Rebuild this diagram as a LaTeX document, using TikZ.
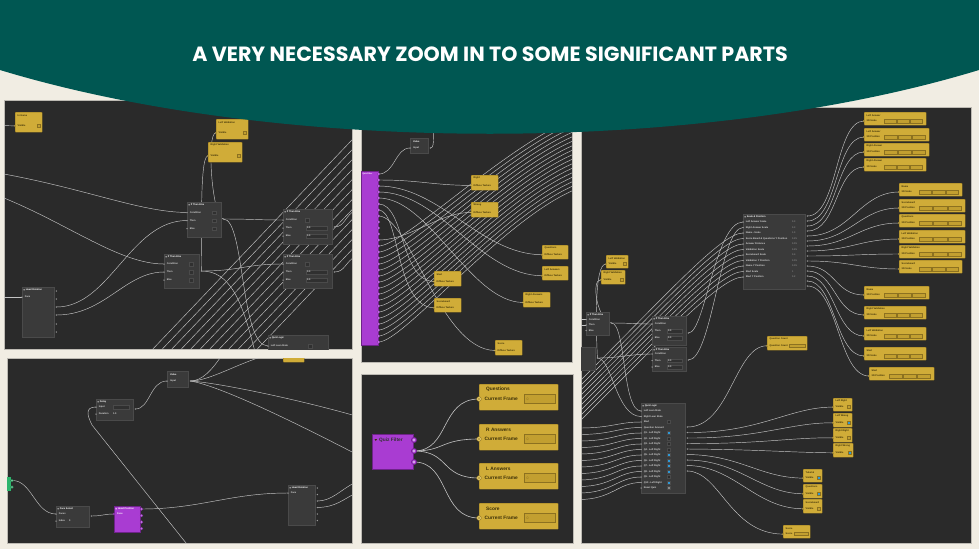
\documentclass[tikz,border=0pt]{standalone}
\usepackage{fontspec}
\setsansfont{Liberation Sans}
\newfontfamily\titlefont{Poppins}
\usetikzlibrary{calc}
\definecolor{cream}{HTML}{F1EDE3}
\definecolor{tealh}{HTML}{005752}
\definecolor{panelc}{HTML}{2A2A2A}
\definecolor{panelb}{HTML}{BDBAB3}
\definecolor{yel}{HTML}{D0AC38}
\definecolor{ybord}{HTML}{8C7120}
\definecolor{ytext}{HTML}{3B2F08}
\definecolor{ylite}{HTML}{F3DA7A}
\definecolor{yfld}{HTML}{C29F30}
\definecolor{gfill}{HTML}{3A3A3A}
\definecolor{gbord}{HTML}{4A4A4A}
\definecolor{gtxt}{HTML}{D8D8D8}
\definecolor{gport}{HTML}{9A9A9A}
\definecolor{gfld}{HTML}{303030}
\definecolor{purp}{HTML}{A93CD2}
\definecolor{pbord}{HTML}{6E2389}
\definecolor{pport}{HTML}{C56FE8}
\definecolor{wirec}{HTML}{C4C4C4}
\definecolor{grn}{HTML}{2DB46C}
\definecolor{bluec}{HTML}{2F9AD8}
\definecolor{gchk}{HTML}{2C2C2C}
\definecolor{gchkl}{HTML}{8A8A8A}
\pgfdeclarelayer{back}\pgfdeclarelayer{bg}\pgfdeclarelayer{front}
\pgfsetlayers{back,bg,main,front}
\newcommand\tfont{\sffamily\bfseries\fontsize{2.4}{2.8}\selectfont}
\newcommand\midfont{\sffamily\bfseries\fontsize{4.8}{5.5}\selectfont}
\tikzset{
 tx/.style={font=\tfont, inner sep=0pt, anchor=west},
 ybx/.style={draw=ybord, fill=yel, line width=0.4pt, inner sep=0pt, rounded corners=0.6pt},
 gbx/.style={draw=gbord, fill=gfill, line width=0.4pt, inner sep=0pt},
 pbx/.style={draw=pbord, fill=purp, line width=0.4pt, inner sep=0pt},
 wire/.style={draw=wirec, line width=0.45pt},
}
% yellow node: name x y w h title row
\newcommand\yNd[7]{%
 \node[ybx, anchor=north west, minimum width=#4pt, minimum height=#5pt] (#1) at (#2,#3) {};
 \node[tx, text=ytext] at ($(#1.north west)+(2.5,3.2)$) {#6};
 \coordinate (#1p) at ($(#1.north west)!0.68!(#1.south west)$);
 \node[tx, text=ytext] at ($(#1p)+(2.5,0)$) {#7};
 \fill[ybord] (#1p) circle (1.1pt); \fill[ylite] (#1p) circle (0.55pt);
}
\newcommand\yChk[2]{%
 \filldraw[fill=#2, draw=ybord, line width=0.3pt, shift={(#1.east |- #1p)}] (-5.5,-1.5) rectangle ++(3,3);
}
% yellow 3D node: name x y w title row
\newcommand\yThree[6]{%
 \node[ybx, anchor=north west, minimum width=#4pt, minimum height=13pt] (#1) at (#2,#3) {};
 \node[tx, text=ytext] at ($(#1.north west)+(2.5,3.3)$) {#5};
 \coordinate (#1p) at ($(#1.north west)+(0,9)$);
 \node[tx, text=ytext] at ($(#1p)+(2.5,0)$) {#6};
 \foreach \q in {0,1,2} \filldraw[fill=yfld, draw=ybord, line width=0.25pt] ($(#1.north west)+({20+\q*(#4-23)/3},7.2)$) rectangle ++({(#4-23)/3-1},3.6);
 \fill[ybord] (#1p) circle (1.1pt); \fill[ylite] (#1p) circle (0.55pt);
}
% gray node: name x y w h title
\newcommand\gNd[6]{%
 \node[gbx, anchor=north west, minimum width=#4pt, minimum height=#5pt] (#1) at (#2,#3) {};
 \fill[gtxt] ($(#1.north west)+(1.3,2.4)$) -- ++(1.6,0) -- ++(-0.8,1.3) -- cycle;
 \node[tx, text=white] at ($(#1.north west)+(3.6,3)$) {#6};
}
\newcommand\gRow[4]{%
 \coordinate (#4) at ($(#1.north west)+(0,#2)$);
 \fill[gport] (#4) circle (0.75pt);
 \node[tx, text=gtxt] at ($(#4)+(2.6,0)$) {#3};
}
\newcommand\gOut[3]{%
 \coordinate (#3) at ($(#1.north east)+(2,#2)$);
 \fill[gport] (#3) circle (0.75pt);
}
\newcommand\gFld[5]{%
 \filldraw[fill=gfld, draw=gbord, line width=0.3pt] ($(#1.north west)+(#2,#3-1.8)$) rectangle ++(#4,3.6);
 \node[tx, text=gtxt] at ($(#1.north west)+(#2+1,#3)$) {#5};
}
% value node: name x y w h
\newcommand\vNd[5]{%
 \node[gbx, anchor=north west, minimum width=#4pt, minimum height=#5pt] (#1) at (#2,#3) {};
 \node[tx, text=white] at ($(#1.north west)+(3,4)$) {Value};
 \coordinate (#1i) at ($(#1.north west)+(0,10)$);
 \coordinate (#1o) at ($(#1.north east)+(2,10)$);
 \fill[gport] (#1i) circle (0.75pt); \fill[gport] (#1o) circle (0.75pt);
 \node[tx, text=gtxt] at ($(#1i)+(3,0)$) {Input};
}
% big yellow node in filter panel: name y title
\newcommand\yCF[3]{%
 \node[ybx, anchor=north west, minimum width=79pt, minimum height=26pt] (#1) at (479,#2) {};
 \node[tx, font=\midfont, text=ytext] at ($(#1.north west)+(7,5.5)$) {#3};
 \coordinate (#1p) at ($(#1.north west)+(0,15)$);
 \filldraw[fill=ylite, draw=ybord, line width=0.5pt] (#1p) circle (2.3pt);
 \fill[ybord] (#1p) circle (0.8pt);
 \node[tx, font=\midfont, text=ytext] at ($(#1p)+(5.5,0)$) {Current Frame};
 \filldraw[fill=yfld, draw=ybord, line width=0.4pt] ($(#1.north west)+(45,10.5)$) rectangle ++(31,9);
 \node[tx, font=\sffamily\fontsize{3.5}{4}\selectfont, text=ybord] at ($(#1.north west)+(47.5,15)$) {0};
}
\begin{document}
\begin{tikzpicture}[x=1pt,y=-1pt]
\begin{pgfonlayer}{back}
\fill[cream] (0,0) rectangle (979,549);
\foreach \a/\b/\c/\d in {4/100/352/349, 361/110/572/362, 7/358/352/543, 361/374/573/543, 581/107/971/543}
  \filldraw[fill=panelc, draw=panelb, line width=0.6pt] (\a,\b) rectangle (\c,\d);
\end{pgfonlayer}
\useasboundingbox (0,0) rectangle (979,549);

%% ================= PANEL 1 =================
\begin{scope}
\clip (4,100) rectangle (352,349);
\yNd{ig}{15}{112}{27}{20}{In Game}{Visible}\yChk{ig}{yfld}
\yNd{lva}{216}{119}{32}{20}{Left Validation}{Visible}\yChk{lva}{yfld}
\yNd{rva}{208}{142}{34}{20}{Right Validation}{Visible}\yChk{rva}{yfld}
\gNd{iteA}{187}{202}{34}{35}{If Then Else}
\gRow{iteA}{10.5}{Condition}{iteAc}\gRow{iteA}{18.5}{Then}{iteAt}\gRow{iteA}{26.5}{Else}{iteAe}
\gFld{iteA}{25}{10.5}{4}{}\gFld{iteA}{25}{18.5}{4}{}\gFld{iteA}{25}{26.5}{4}{}
\gOut{iteA}{17}{iteAo}
\gNd{iteB}{164}{254}{35}{34}{If Then Else}
\gRow{iteB}{10}{Condition}{iteBc}\gRow{iteB}{18}{Then}{iteBt}\gRow{iteB}{26}{Else}{iteBe}
\gFld{iteB}{25}{10}{4}{}\gFld{iteB}{25}{18}{4}{}\gFld{iteB}{25}{26}{4}{}
\gOut{iteB}{17}{iteBo}
\gNd{iteC}{283}{209}{49}{35}{If Then Else}
\gRow{iteC}{11}{Condition}{iteCc}\gRow{iteC}{19}{Then}{iteCt}\gRow{iteC}{27}{Else}{iteCe}
\gFld{iteC}{22}{11}{4}{}\gFld{iteC}{23}{19}{21}{0.0}\gFld{iteC}{23}{27}{21}{0.0}
\gOut{iteC}{18}{iteCo}
\gNd{iteD}{283}{254}{49}{34}{If Then Else}
\gRow{iteD}{10}{Condition}{iteDc}\gRow{iteD}{18}{Then}{iteDt}\gRow{iteD}{26}{Else}{iteDe}
\gFld{iteD}{22}{10}{4}{}\gFld{iteD}{23}{18}{21}{0.0}\gFld{iteD}{23}{26}{21}{0.0}
\gOut{iteD}{18}{iteDo}
\gNd{hra}{22}{287}{32}{50}{Head Rotation}
\gRow{hra}{10}{Face}{hraf}
\gOut{hra}{4}{hrao1}\gOut{hra}{12}{hrao2}\gOut{hra}{20}{hrao3}\gOut{hra}{28}{hrao4}\gOut{hra}{37}{hrao5}\gOut{hra}{45}{hrao6}
\gNd{qla}{268}{335}{60}{20}{Quiz Logic}
\gRow{qla}{11}{Left Lean State}{qlaa}\gFld{qla}{40}{11}{4}{}
\end{scope}
\begin{pgfonlayer}{bg}
\begin{scope}
\clip (4,100) rectangle (352,349);
\coordinate (e1a) at (4,174); \coordinate (e1b) at (4,198); \coordinate (e1c) at (4,297); \coordinate (e1d) at (4,125.6);
\draw[wire] (e1d) -- (igp);
\draw[wire] (e1a) .. controls (90,190) and (140,212) .. (iteAc);
\draw[wire] (e1b) .. controls (70,225) and (120,264) .. (iteBc);
\draw[wire] (e1c) -- (hraf);
\draw[wire] (hrao3) .. controls (110,307) and (130,220.5) .. (iteAt);
\draw[wire] (hrao4) .. controls (105,315) and (125,272) .. (iteBt);
\draw[wire] (iteAo) .. controls (250,219) and (260,220) .. (iteCc);
\draw[wire] (iteAo) .. controls (245,219) and (240,346) .. (qlaa);
\draw[wire] (lvap) .. controls (206,132) and (212,219) .. (iteAo);
\draw[wire] (rvap) .. controls (198,155) and (203,271) .. (iteBo);
\draw[wire] (iteBo) .. controls (240,271) and (245,264) .. (iteDc);
\draw[wire] (iteBo) .. controls (230,271) and (242,300) .. (255,352);
\draw[wire] (iteCo) .. controls (345,227) and (345,215) .. (356,210);
\draw[wire] (iteDo) .. controls (345,272) and (345,262) .. (356,256);
\foreach \i in {0,...,11} \draw[wire] ({150+9.5*\i},352) -- (354,{352-(204-9.5*\i)*1.05});
\end{scope}
\end{pgfonlayer}

%% ================= PANEL 2 =================
\begin{scope}
\clip (361,110) rectangle (572,362);
\node[pbx, anchor=north west, minimum width=17pt, minimum height=174pt] (ptb) at (361,171) {};
\node[tx, text=white, font=\sffamily\bfseries\fontsize{2}{2.4}\selectfont] at (362.3,174) {Quiz Filter};
\foreach \i in {1,...,29} {\coordinate (pp\i) at (378.5,{168+6*\i}); \filldraw[fill=pport, draw=pbord, line width=0.3pt] (pp\i) circle (1.5pt);}
\vNd{vb}{410}{138}{18}{15}
\yNd{rtb}{471}{175}{27}{15}{Right}{Diffuse Texture}
\yNd{wrb}{471}{202}{27}{15}{Wrong}{Diffuse Texture}
\yNd{qsb}{542}{245}{26}{14}{Questions}{Diffuse Texture}
\yNd{lab}{542}{266}{26}{14}{Left Answers}{Diffuse Texture}
\yNd{rab}{523}{292}{27}{15}{Right Answers}{Diffuse Texture}
\yNd{stb}{434}{271}{27}{15}{Start}{Diffuse Texture}
\yNd{sbb}{434}{298}{27}{14}{Scoreboard}{Diffuse Texture}
\yNd{scb}{495}{340}{27}{15}{Score}{Diffuse Texture}
\end{scope}
\begin{pgfonlayer}{bg}
\begin{scope}
\clip (361,110) rectangle (572,362);
\draw[wire] (pp1) .. controls (395,174) and (395,148) .. (vbi);
\draw[wire] (vbo) .. controls (436,148) and (432,130) .. (434,105);
\draw[wire] (pp2) .. controls (420,180) and (430,185) .. (rtbp);
\draw[wire] (pp3) .. controls (440,186) and (480,254) .. (qsbp);
\draw[wire] (pp4) .. controls (440,192) and (480,275) .. (labp);
\draw[wire] (pp5) .. controls (430,198) and (470,302) .. (rabp);
\draw[wire] (pp6) .. controls (405,204) and (400,281) .. (stbp);
\draw[wire] (pp7) .. controls (400,210) and (395,307) .. (sbbp);
\draw[wire] (pp8) .. controls (410,216) and (440,350) .. (scbp);
\draw[wire] (pp12) .. controls (410,240) and (440,212) .. (wrbp);
\foreach \i in {13,...,29} \draw[wire] (pp\i) .. controls +(25,0) and (500,{150+4.5*(\i-13)}) .. (574,{118+4.5*(\i-13)});
\end{scope}
\end{pgfonlayer}

%% ================= PANEL 3 =================
\begin{scope}
\clip (7,358) rectangle (352,543);
\node[ybx, anchor=north west, minimum width=21pt, minimum height=12pt] (ycut) at (283,350) {};
\vNd{vc}{167}{371}{21}{16}
\gNd{dlc}{96}{399}{37}{21}{Delay}
\gRow{dlc}{8}{Input}{dlci}\gFld{dlc}{17}{8}{16}{}
\gRow{dlc}{15}{Duration}{dlcd}
\node[tx, text=gtxt] at ($(dlc.north west)+(17,15)$) {1.0};
\gOut{dlc}{10}{dlco}
\gNd{fsc}{56}{506}{33}{21}{Face Select}
\gRow{fsc}{8}{Faces}{fscf}\gRow{fsc}{15}{Index}{fsci}
\node[tx, text=gtxt] at ($(fsc.north west)+(13,15)$) {0};
\gOut{fsc}{10}{fsco}
\node[pbx, anchor=north west, minimum width=26pt, minimum height=26pt] (hpc) at (114,506) {};
\fill[white] (115.3,508.4) -- ++(1.6,0) -- ++(-0.8,1.3) -- cycle;
\node[tx, text=white] at (117.8,509) {Head Position};
\coordinate (hpcf) at (114,514);
\filldraw[fill=pport, draw=pbord, line width=0.3pt] (hpcf) circle (1.2pt);
\node[tx, text=white] at (117,514) {Face};
\foreach \i/\yy in {1/509,2/515.5,3/522,4/528.5} {\coordinate (hpco\i) at (141.5,\yy); \filldraw[fill=pport, draw=pbord, line width=0.3pt] (hpco\i) circle (1.5pt);}
\node[fill=grn, inner sep=0pt, anchor=north west, minimum width=7pt, minimum height=14pt] (grc) at (4,477) {};
\coordinate (grca) at (12,480.5); \coordinate (grcb) at (12,487);
\filldraw[fill=grn!70!white, draw=grn!50!black, line width=0.3pt] (grca) circle (1.5pt);
\filldraw[fill=grn!70!white, draw=grn!50!black, line width=0.3pt] (grcb) circle (1.5pt);
\gNd{hrc}{288}{485}{27}{40}{Head Rotation}
\gRow{hrc}{8}{Face}{hrcf}
\gOut{hrc}{3}{hrco1}\gOut{hrc}{9.5}{hrco2}\gOut{hrc}{16}{hrco3}\gOut{hrc}{22.5}{hrco4}\gOut{hrc}{29}{hrco5}\gOut{hrc}{35.5}{hrco6}
\end{scope}
\begin{pgfonlayer}{bg}
\begin{scope}
\clip (7,358) rectangle (352,543);
\draw[wire] (grca) .. controls (32,480) and (35,514) .. (fscf);
\draw[wire] (fsco) .. controls (102,516) and (104,514) .. (hpcf);
\draw[wire] (hpco1) .. controls (200,509) and (230,493) .. (hrcf);
\draw[wire] (dlco) .. controls (150,409) and (150,381) .. (vci);
\draw[wire] (dlci) .. controls (85,407) and (87,415) .. (92,425) -- (190,548);
\draw[wire] (vco) .. controls (202,381) and (212,370) .. (222,355);
\draw[wire] (vco) .. controls (210,381) and (240,362) .. (268,355);
\draw[wire] (vco) .. controls (220,383) and (300,400) .. (356,416);
\draw[wire] (vco) .. controls (220,386) and (290,420) .. (356,454);
\draw[wire] (hrco3) .. controls (332,501) and (340,490) .. (356,482);
\draw[wire] (hrco4) .. controls (336,507) and (342,500) .. (356,493);
\end{scope}
\end{pgfonlayer}

%% ================= PANEL 4 =================
\begin{scope}
\clip (361,374) rectangle (573,543);
\node[pbx, anchor=north west, minimum width=41pt, minimum height=35pt] (qfd) at (372,434) {};
\fill[ytext] (374.5,439) -- ++(2.6,0) -- ++(-1.3,2) -- cycle;
\node[tx, font=\midfont, text=black!80] at (379,440) {Quiz Filter};
\foreach \i/\yy in {1/440,2/451,3/462} {\coordinate (qfdo\i) at (414,\yy); \filldraw[fill=purp, draw=pbord, line width=0.6pt] (qfdo\i) circle (2.6pt); \draw[white!80!purp, line width=0.4pt] (qfdo\i) circle (1.1pt);}
\yCF{qd}{384}{Questions}
\yCF{rd}{424}{R Answers}
\yCF{ld}{463}{L Answers}
\yCF{sd}{503}{Score}
\end{scope}
\begin{pgfonlayer}{bg}
\begin{scope}
\clip (361,374) rectangle (573,543);
\draw[wire, line width=0.6pt] (qfdo2) .. controls (450,451) and (440,399) .. (qdp);
\draw[wire, line width=0.6pt] (qfdo2) .. controls (445,451) and (440,439) .. (rdp);
\draw[wire, line width=0.6pt] (qfdo2) .. controls (450,451) and (440,478) .. (ldp);
\draw[wire, line width=0.6pt] (qfdo3) .. controls (450,462) and (440,518) .. (sdp);
\end{scope}
\end{pgfonlayer}

%% ================= PANEL 5 =================
\begin{scope}
\clip (581,107) rectangle (971,543);
\gNd{sp}{743}{214}{62}{75}{Scale \& Position}
\foreach \lab/\val [count=\k from 0] in {Left Answer Scale/0.3, Right Answer Scale/0.3, Name - Scale/1.0, Score Board \& Questions Y Position/0.25, Answer Distance/0.05, Validation Scale/0.25, Scoreboard Scale/0.4, Validation Y Position/0.05, Name Y Position/0.35, Start Scale/1, Start Y Position/0.2}
 {\gRow{sp}{8+5.5*\k}{\lab}{spi\k}\node[tx, text=gray] at ($(sp.north west)+(49,8+5.5*\k)$) {\val};}
\foreach \k in {1,...,15} {\gOut{sp}{5*\k-3}{spo\k}}
\yThree{ta}{864}{112}{62}{Left Answer}{3D Scale}
\yThree{tb}{864}{128}{65}{Left Answer}{3D Position}
\yThree{tc}{864}{143}{65}{Right Answer}{3D Position}
\yThree{td}{864}{158}{62}{Right Answer}{3D Scale}
\yThree{te}{899}{183}{63}{Name}{3D Scale}
\yThree{tf}{899}{199}{66}{Scoreboard}{3D Position}
\yThree{tg}{899}{214}{66}{Questions}{3D Position}
\yThree{th}{899}{230}{66}{Left Validation}{3D Position}
\yThree{ti}{899}{245}{66}{Right Validation}{3D Position}
\yThree{tj}{899}{260}{63}{Scoreboard}{3D Scale}
\yThree{tk}{864}{286}{65}{Name}{3D Position}
\yThree{tl}{864}{306}{62}{Right Validation}{3D Scale}
\yThree{tm}{864}{327}{62}{Left Validation}{3D Scale}
\yThree{tn}{864}{347}{62}{Start}{3D Scale}
\yThree{tz}{869}{367}{65}{Start}{3D Position}
\yNd{lvr}{606}{255}{22}{13}{Left Validation}{Visible}\yChk{lvr}{yfld}
\yNd{rvr}{601}{270}{24}{14}{Right Validation}{Visible}\yChk{rvr}{yfld}
\gNd{iteE}{586}{312}{23}{23}{If Then Else}
\gRow{iteE}{7.5}{Condition}{iteEc}\gRow{iteE}{13}{Then}{iteEt}\gRow{iteE}{18.5}{Else}{iteEe}
\gOut{iteE}{11}{iteEo}
\gNd{iteF}{652}{316}{34}{29}{If Then Else}
\gRow{iteF}{8}{Condition}{iteFc}\gRow{iteF}{15}{Then}{iteFt}\gRow{iteF}{22}{Else}{iteFe}
\gFld{iteF}{15}{15}{15}{0.0}\gFld{iteF}{15}{22}{15}{0.0}
\gOut{iteF}{17}{iteFo}
\gNd{iteG}{652}{347}{34}{24}{If Then Else}
\gRow{iteG}{7}{Condition}{iteGc}\gRow{iteG}{13.5}{Then}{iteGt}\gRow{iteG}{20}{Else}{iteGe}
\gFld{iteG}{15}{13.5}{15}{0.0}\gFld{iteG}{15}{20}{15}{0.0}
\gOut{iteG}{13}{iteGo}
\gNd{iteH}{560}{347}{35}{23}{If Then Else}
\gRow{iteH}{7.5}{Condition}{iteHc}\gRow{iteH}{13}{Then}{iteHt}\gRow{iteH}{18.5}{Else}{iteHe}
\gOut{iteH}{11}{iteHo}
\gNd{qlr}{641}{403}{44}{90}{Quiz Logic}
\foreach \lab [count=\k from 0] in {Left Lean State, Right Lean State, Start, Question Amount, Q1 - Left Right, Q2 - Left Right, Q3 - Left Right, Q4 - Left Right, Q5 - Left Right, Q6 - Left Right, Q7 - Left Right, Q8 - Left Right, Q9 - Left Right, Q10 - Left Right, Reset Quiz}
 {\gRow{qlr}{8+5.5*\k}{\lab}{qi\k}}
\foreach \k/\cc in {2/gchk,4/bluec,5/gchk,6/gchk,7/gchk,8/bluec,9/bluec,10/bluec,11/bluec,12/gchk,13/bluec,14/gchkl}
 \filldraw[fill=\cc, draw=gbord, line width=0.25pt] ($(qlr.north west)+(26,{8+5.5*\k-1.4})$) rectangle ++(2.8,2.8);
\foreach \o in {0,...,8} {\gOut{qlr}{24+5.5*\o}{qo\o}}
\yNd{qc}{767}{336}{40}{14}{Question Count}{Question Count}
\filldraw[fill=yfld, draw=ybord, line width=0.25pt] ($(qc.north west)+(22,7.8)$) rectangle ++(16,3.6);
\yNd{lr}{833}{398}{19}{13}{Left Right}{Visible}\yChk{lr}{yfld}
\yNd{lw}{833}{413}{19}{14}{Left Wrong}{Visible}\yChk{lw}{bluec}
\yNd{rr}{833}{428}{19}{14}{Right Right}{Visible}\yChk{rr}{yfld}
\yNd{rw}{833}{443}{20}{14}{Right Wrong}{Visible}\yChk{rw}{bluec}
\yNd{tu}{803}{469}{19}{13}{Tutorial}{Visible}\yChk{tu}{bluec}
\yNd{qv}{803}{484}{19}{14}{Questions}{Visible}\yChk{qv}{bluec}
\yNd{sv}{803}{499}{19}{14}{Scoreboard}{Visible}\yChk{sv}{yfld}
\yNd{sc}{783}{525}{27}{13}{Score}{Score}
\filldraw[fill=yfld, draw=ybord, line width=0.25pt] ($(sc.north west)+(11,7)$) rectangle ++(14,3.6);
\end{scope}
\begin{pgfonlayer}{bg}
\begin{scope}
\clip (581,107) rectangle (971,543);
\foreach \i in {2,...,10} \draw[wire] (579,{372+5*\i}) .. controls (671,{280+5*\i}) and (722,{222+5.5*\i}) .. (spi\i);
\draw[wire] (iteFo) .. controls (705,333) and (715,222) .. (spi0);
\draw[wire] (iteGo) .. controls (712,360) and (720,227.5) .. (spi1);
\draw[wire] (tap) .. controls (835,121) and (838,216) .. (spo1);
\draw[wire] (tbp) .. controls (835,137) and (838,221) .. (spo2);
\draw[wire] (tcp) .. controls (835,152) and (838,226) .. (spo3);
\draw[wire] (tdp) .. controls (835,167) and (838,231) .. (spo4);
\draw[wire] (tep) .. controls (860,192) and (850,236) .. (spo5);
\draw[wire] (tfp) .. controls (860,208) and (850,241) .. (spo6);
\draw[wire] (tgp) .. controls (860,223) and (850,246) .. (spo7);
\draw[wire] (thp) .. controls (860,239) and (850,251) .. (spo8);
\draw[wire] (tip) .. controls (860,254) and (850,256) .. (spo9);
\draw[wire] (tjp) .. controls (860,269) and (850,261) .. (spo10);
\draw[wire] (tkp) .. controls (835,295) and (835,266) .. (spo11);
\draw[wire] (tlp) .. controls (835,315) and (835,271) .. (spo12);
\draw[wire] (tmp) .. controls (835,336) and (835,276) .. (spo13);
\draw[wire] (tnp) .. controls (835,356) and (835,281) .. (spo14);
\draw[wire] (tzp) .. controls (838,376) and (838,286) .. (spo15);
\draw[wire] (lvrp) .. controls (594,263) and (596,330) .. (iteHo);
\draw[wire] (rvrp) .. controls (590,279) and (598,322) .. (iteEo);
\draw[wire] (iteEo) .. controls (630,323) and (635,324) .. (iteFc);
\draw[wire] (iteEo) .. controls (626,323) and (622,411) .. (qi0);
\draw[wire] (iteHo) .. controls (620,358) and (630,354) .. (iteGc);
\draw[wire] (iteHo) .. controls (612,358) and (616,416.5) .. (qi1);
\draw[wire] (579,319.5) -- (iteEc);
\draw[wire] (579,325) -- (iteEt);
\foreach \k in {2,...,13} \draw[wire] (579,{428+6.5*(\k-2)}) .. controls (612,{428+6.5*(\k-2)}) and (618,{411+5.5*\k}) .. (qi\k);
\draw[wire] (qo0) .. controls (730,427) and (735,345.5) .. (qcp);
\draw[wire] (qo1) .. controls (760,433) and (790,406.8) .. (lrp);
\draw[wire] (qo2) .. controls (760,438.5) and (790,422.5) .. (lwp);
\draw[wire] (qo3) .. controls (760,444) and (790,437.5) .. (rrp);
\draw[wire] (qo4) .. controls (760,449.5) and (790,452.5) .. (rwp);
\draw[wire] (qo5) .. controls (740,455) and (760,477.8) .. (tup);
\draw[wire] (qo6) .. controls (740,460.5) and (760,493.5) .. (qvp);
\draw[wire] (qo7) .. controls (735,466) and (755,508.5) .. (svp);
\draw[wire] (qo8) .. controls (720,471.5) and (730,533.8) .. (scp);
\end{scope}
\end{pgfonlayer}

%% ================= HEADER =================
\begin{pgfonlayer}{front}
\fill[tealh] (0,0) -- (979,0) -- (979,70) .. controls (700,155) and (280,155) .. (0,70) -- cycle;
\node[font=\titlefont\bfseries\fontsize{20.6}{24}\selectfont, text=white, inner sep=0pt] (ttl) at (490,54) {A VERY NECESSARY ZOOM IN TO SOME SIGNIFICANT PARTS};
\end{pgfonlayer}
\end{tikzpicture}
\end{document}
